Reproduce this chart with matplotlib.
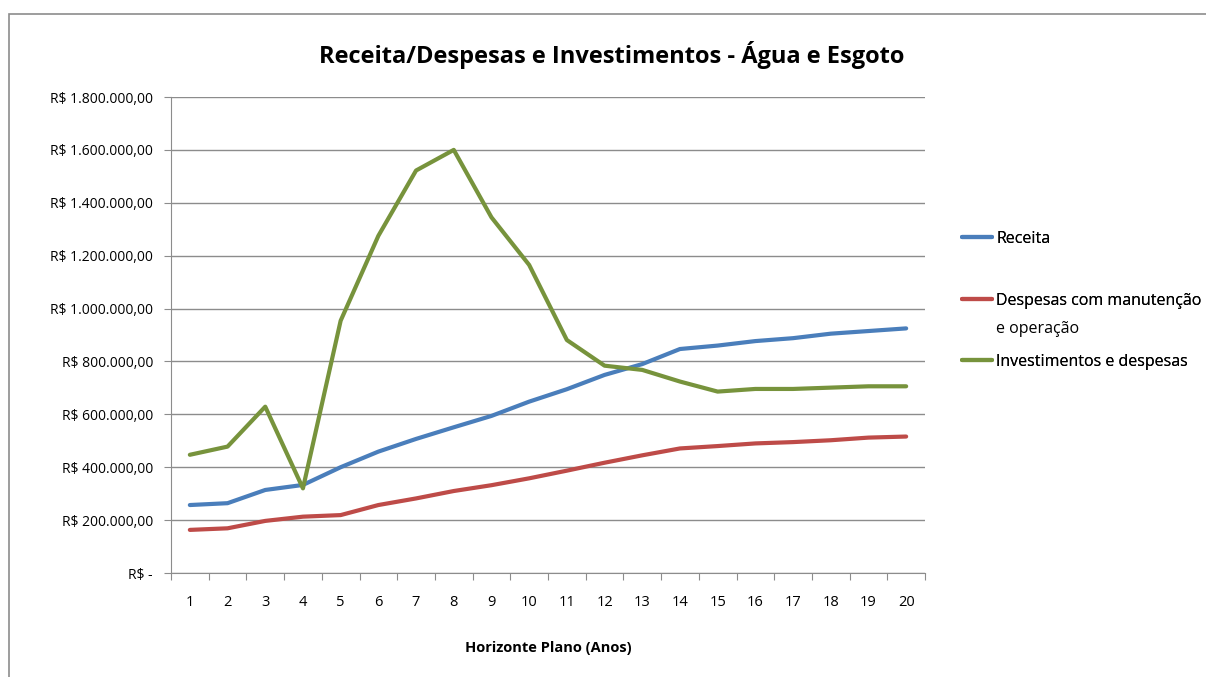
""" Receita/Despesas e Investimentos - Agua e Esgoto """

import matplotlib.pyplot as plt
from matplotlib.patches import Rectangle
from matplotlib.ticker import FuncFormatter, FixedLocator

anos = list(range(1, 21))

receita = [257000, 264000, 314000, 333000, 400000, 459000, 507000, 551000,
           594000, 648000, 695000, 749000, 790000, 847000, 860000, 877000,
           888000, 905000, 915000, 925000]

despesas = [163000, 169000, 197000, 213000, 219000, 257000, 282000, 310000,
            332000, 358000, 387000, 417000, 445000, 471000, 480000, 490000,
            495000, 502000, 512000, 516000]

investimentos = [447000, 478000, 629000, 320000, 954000, 1275000, 1522000,
                 1600000, 1345000, 1165000, 881000, 784000, 768000, 724000,
                 686000, 696000, 696000, 701000, 706000, 706000]

nomes = ['Receita', 'Despesas com manutenção', 'Investimentos e despesas']
continuacao = 'e operação'
cores = ['#4A7EBB', '#BE4B48', '#77933C']

plt.rcParams['font.family'] = ['Open Sans', 'DejaVu Sans']


def reais(v, pos):
    if v == 0:
        return 'R$ -'
    s = '{:,.2f}'.format(v)
    s = s.replace(',', 'X').replace('.', ',').replace('X', '.')
    return 'R$ ' + s


fig = plt.figure(figsize=(12.06, 6.77), dpi=100)
ax = fig.add_axes([171 / 1206, 1 - 573 / 677, 754 / 1206, 476 / 677])

linhas = []
for serie, cor in zip([receita, despesas, investimentos], cores):
    l, = ax.plot(anos, serie, color=cor, lw=3, solid_capstyle='round',
                 solid_joinstyle='round')
    linhas.append(l)

ax.set_xlim(0.5, 20.5)
ax.set_ylim(0, 1800000)
ax.set_yticks(range(0, 1800001, 200000))
ax.yaxis.set_major_formatter(FuncFormatter(reais))
ax.yaxis.grid(True, color='#8C8C8C', lw=1)
ax.set_axisbelow(True)

ax.xaxis.set_major_locator(FixedLocator([i + 0.5 for i in range(0, 21)]))
ax.xaxis.set_minor_locator(FixedLocator(anos))
ax.xaxis.set_major_formatter(FuncFormatter(lambda v, p: ''))
ax.xaxis.set_minor_formatter(FuncFormatter(lambda v, p: str(int(v))))
ax.tick_params(axis='x', which='major', length=5, color='#8C8C8C')
ax.tick_params(axis='x', which='minor', length=0, pad=16, labelsize=10.5)
ax.tick_params(axis='y', length=5, color='#8C8C8C', labelsize=10, pad=8)

for s in ['top', 'right']:
    ax.spines[s].set_visible(False)
for s in ['left', 'bottom']:
    ax.spines[s].set_color('#8C8C8C')

ax.set_xlabel('Horizonte Plano (Anos)', fontsize=10.5, fontweight='bold',
              labelpad=22)
fig.text(612 / 1206, 1 - 55 / 677, 'Receita/Despesas e Investimentos - Água e Esgoto',
         ha='center', va='center', fontsize=17, fontweight='bold')

# legenda: uma por serie, como no Excel
posicoes = [1 - 239 / 677, 1 - 301 / 677, 1 - 362 / 677]
legendas = []
for linha, nome, y in zip(linhas, nomes, posicoes):
    leg = fig.legend([linha], [nome], loc='center left',
                     bbox_to_anchor=(962 / 1206, y), frameon=False,
                     fontsize=11.5, handlelength=1.9, handletextpad=0.25,
                     borderpad=0, borderaxespad=0)
    fig.add_artist(leg)
    legendas.append(leg)

fig.canvas.draw()
x_texto = legendas[1].get_texts()[0].get_window_extent().x0 / fig.bbox.width
fig.text(x_texto, 1 - 329 / 677, continuacao, ha='left', va='center',
         fontsize=11.5)

fig.add_artist(Rectangle((9 / 1206, -0.1), 1.2, 1.1 - 14 / 677,
                         transform=fig.transFigure, fill=False,
                         edgecolor='#8C8C8C', lw=1.2, clip_on=False))

plt.savefig('out.png')
